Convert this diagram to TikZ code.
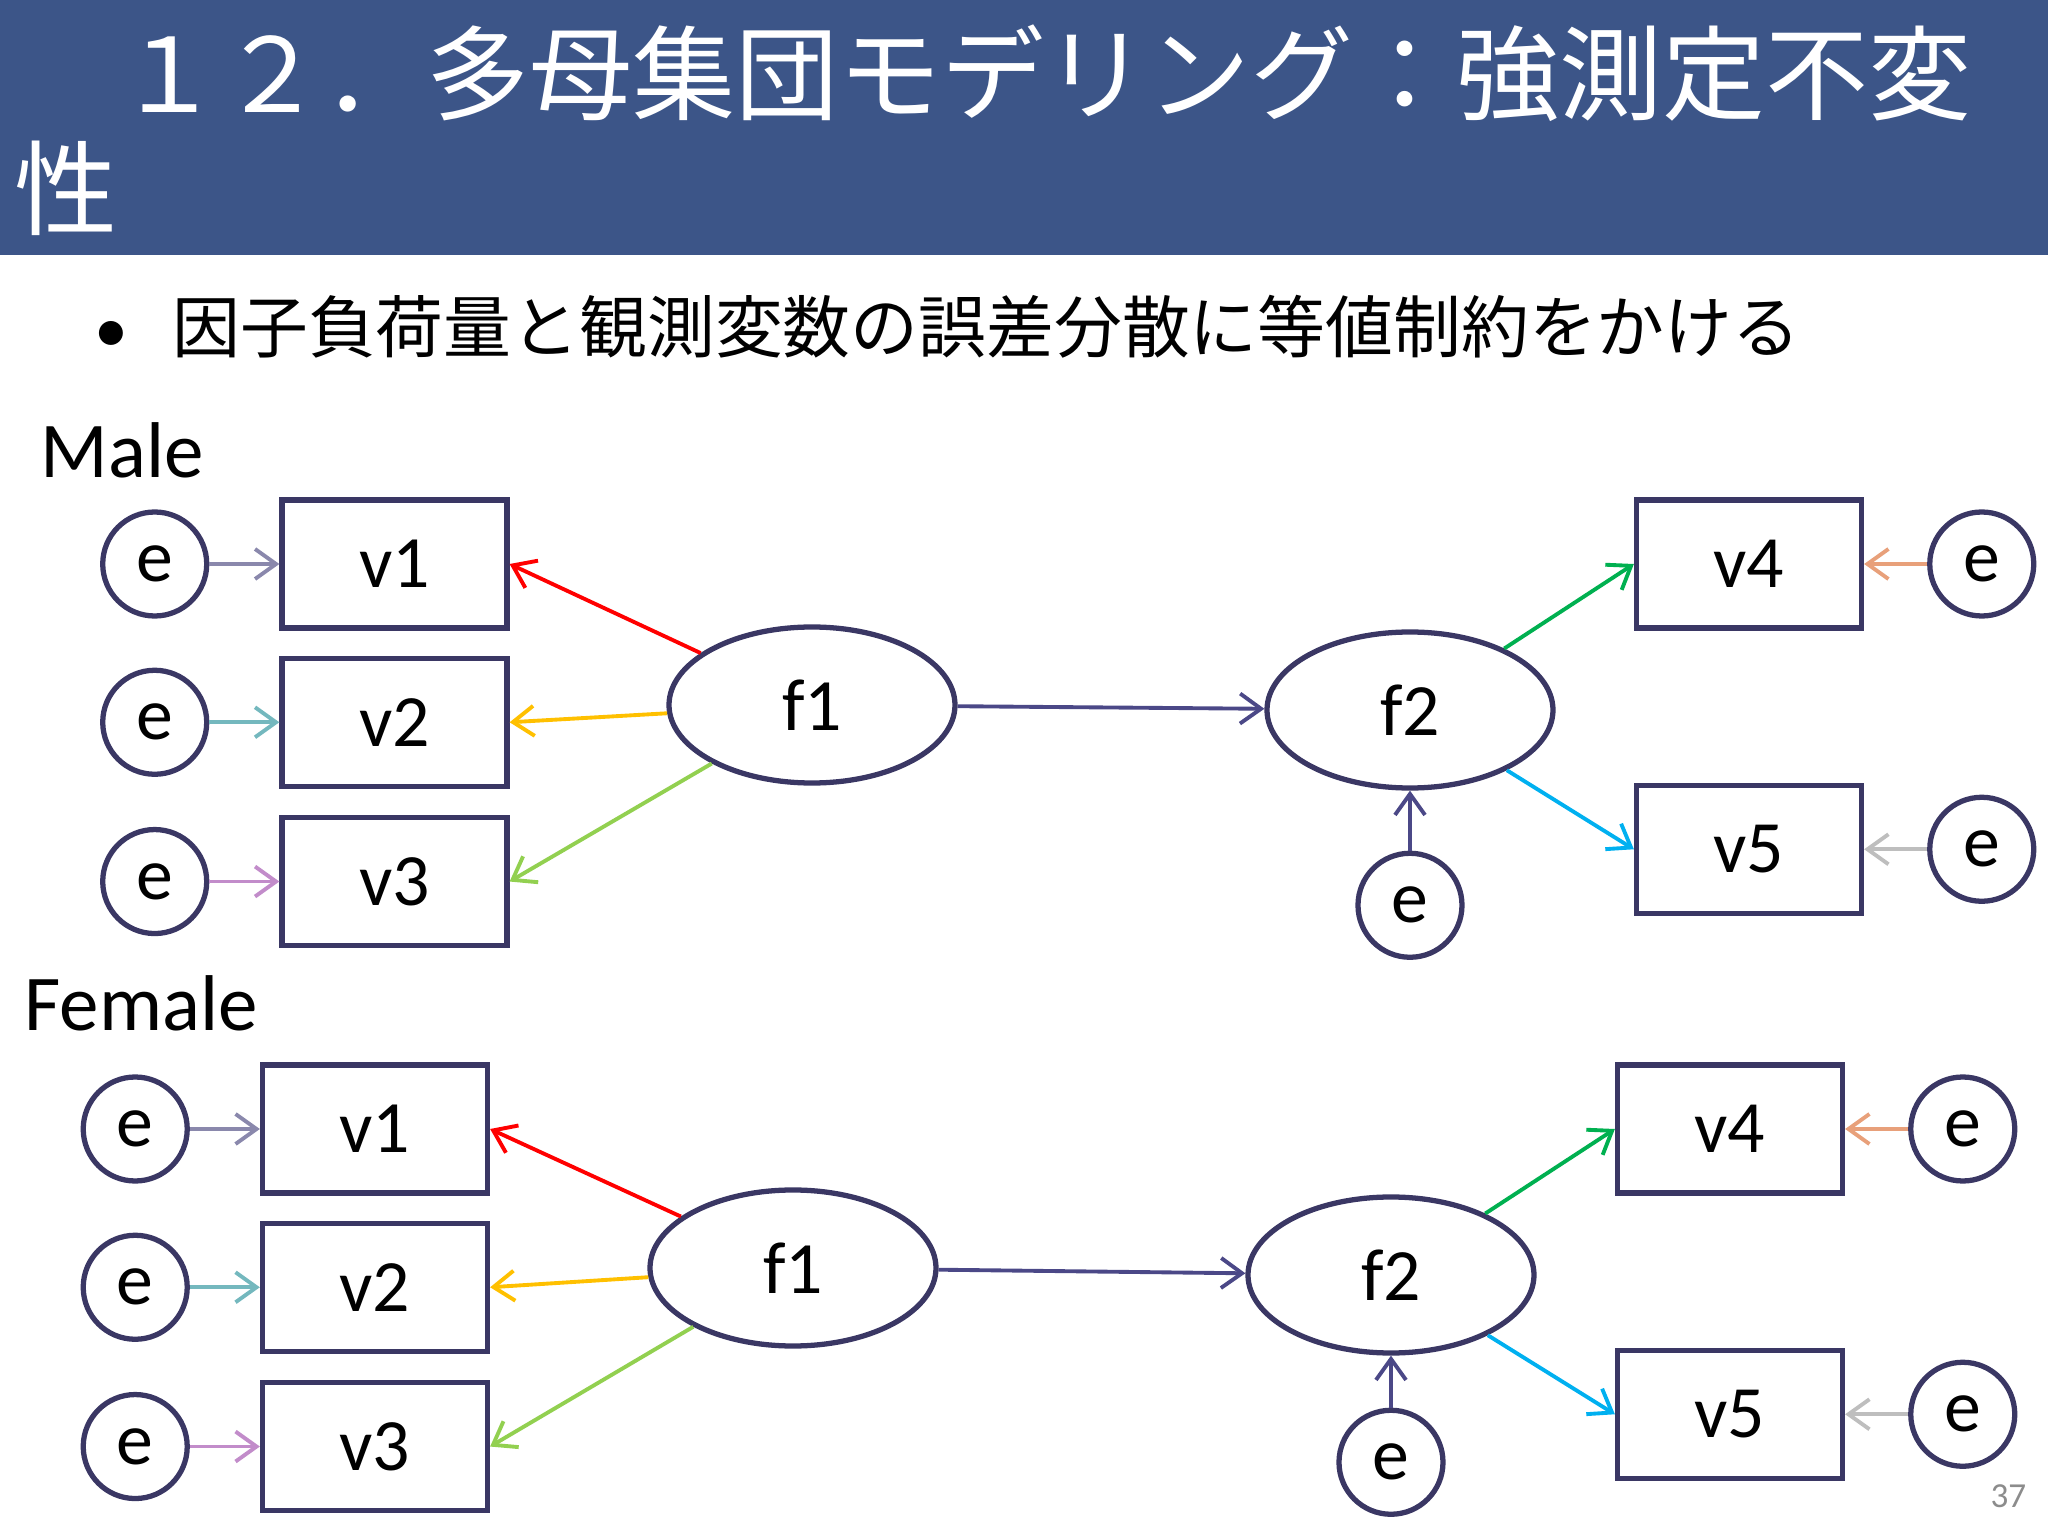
\documentclass[tikz,border=0pt]{standalone}
\usepackage{fontspec}
\setmainfont{Carlito}
\newfontfamily\jpfont{Noto Sans CJK JP}
\usetikzlibrary{positioning,arrows.meta,shapes.geometric}

\definecolor{hdrblue}{RGB}{60,85,136}
\definecolor{navy}{RGB}{58,55,100}
\definecolor{pathnavy}{RGB}{75,72,135}
\definecolor{errgray}{RGB}{138,136,172}
\definecolor{errteal}{RGB}{116,184,190}
\definecolor{errpink}{RGB}{194,140,202}
\definecolor{errpeach}{RGB}{232,160,122}
\definecolor{errlight}{RGB}{190,190,190}
\definecolor{ldred}{RGB}{255,0,0}
\definecolor{ldgold}{RGB}{255,192,0}
\definecolor{ldlime}{RGB}{146,208,80}
\definecolor{ldgreen}{RGB}{0,176,80}
\definecolor{ldblue}{RGB}{0,176,240}
\definecolor{pagegray}{RGB}{140,140,140}

\begin{document}
\begin{tikzpicture}[
    font=\fontsize{21}{25}\selectfont,
    obs/.style={draw=navy, line width=1.5pt, minimum width=22.5mm,
        minimum height=12.8mm, inner sep=0pt},
    lat/.style={ellipse, draw=navy, line width=1.5pt, minimum width=28.6mm,
        minimum height=15.6mm, inner sep=0pt},
    err/.style={circle, draw=navy, line width=1.5pt, minimum size=10.4mm, inner sep=0pt},
    link/.style={-{Straight Barb[length=2.1mm,width=3mm]}, line width=1.1pt, draw=#1},
    title/.style={anchor=base west, inner sep=0pt, text=white,
        font=\jpfont\fontsize{29.3}{32}\selectfont},
    grp/.style={anchor=base west, inner sep=0pt, font=\fontsize{#1}{#1}\selectfont},
]

% ---- page + header band ----
\useasboundingbox (0,0) rectangle (20.48,-15.36);
\fill[hdrblue] (0,0) rectangle (20.48,-2.55);

\node[title] (title1) at (0.14,-1.13) {　１２．多母集団モデリング：強測定不変};
\node[title] (title2) at (0.14,-2.28) {性};

\node[anchor=base west, inner sep=0pt, font=\fontsize{19.3}{22}\selectfont] (bullet)
    at (0.94,-3.53) {•\hspace{4.4mm}{\jpfont 因子負荷量と観測変数の誤差分散に等値制約をかける}};

\node[grp=22.5] (male)   at (0.40,-4.78)  {Male};
\node[grp=22.5] (female) at (0.24,-10.30) {Female};

% ---- male group ----
\node[obs] (mv1) at (3.945,-5.64) {v1};
\node[obs, below=2.5mm of mv1] (mv2) {v2};
\node[obs, below=2.6mm of mv2] (mv3) {v3};
\node[err, left=7mm of mv1] (mev1) {e};
\node[err, left=7mm of mv2] (mev2) {e};
\node[err, left=7mm of mv3] (mev3) {e};
\node[lat] (mf1) at (8.12,-7.05) {f1};
\node[lat] (mf2) at (14.10,-7.10) {f2};
\node[err, below=6mm of mf2] (mef2) {e};
\node[obs] (mv4) at (17.49,-5.64) {v4};
\node[obs, below=15.2mm of mv4] (mv5) {v5};
\node[err, right=6.3mm of mv4] (mev4) {e};
\node[err, right=6.3mm of mv5] (mev5) {e};

\draw[link=errgray]  (mev1) -- (mv1);
\draw[link=errteal]  (mev2) -- (mv2);
\draw[link=errpink]  (mev3) -- (mv3);
\draw[link=ldred]    (mf1) -- (mv1.east);
\draw[link=ldgold]   (mf1) -- (mv2.east);
\draw[link=ldlime]   (mf1) -- (mv3.east);
\draw[link=pathnavy] (mf1) -- (mf2);
\draw[link=pathnavy] (mef2) -- (mf2);
\draw[link=ldgreen]  (mf2) -- (mv4.west);
\draw[link=ldblue]   (mf2) -- (mv5.west);
\draw[link=errpeach] (mev4) -- (mv4);
\draw[link=errlight] (mev5) -- (mv5);

% ---- female group ----
\node[obs] (fv1) at (3.75,-11.29) {v1};
\node[obs, below=2.5mm of fv1] (fv2) {v2};
\node[obs, below=2.6mm of fv2] (fv3) {v3};
\node[err, left=7mm of fv1] (fev1) {e};
\node[err, left=7mm of fv2] (fev2) {e};
\node[err, left=7mm of fv3] (fev3) {e};
\node[lat] (ff1) at (7.93,-12.68) {f1};
\node[lat] (ff2) at (13.91,-12.75) {f2};
\node[err, below=5.2mm of ff2] (fef2) {e};
\node[obs] (fv4) at (17.30,-11.29) {v4};
\node[obs, below=15.2mm of fv4] (fv5) {v5};
\node[err, right=6.3mm of fv4] (fev4) {e};
\node[err, right=6.3mm of fv5] (fev5) {e};

\draw[link=errgray]  (fev1) -- (fv1);
\draw[link=errteal]  (fev2) -- (fv2);
\draw[link=errpink]  (fev3) -- (fv3);
\draw[link=ldred]    (ff1) -- (fv1.east);
\draw[link=ldgold]   (ff1) -- (fv2.east);
\draw[link=ldlime]   (ff1) -- (fv3.east);
\draw[link=pathnavy] (ff1) -- (ff2);
\draw[link=pathnavy] (fef2) -- (ff2);
\draw[link=ldgreen]  (ff2) -- (fv4.west);
\draw[link=ldblue]   (ff2) -- (fv5.west);
\draw[link=errpeach] (fev4) -- (fv4);
\draw[link=errlight] (fev5) -- (fv5);

% ---- page number ----
\node[anchor=base east, inner sep=0pt, text=pagegray, font=\fontsize{10}{12}\selectfont]
    (pgno) at (20.27,-15.07) {37};

\end{tikzpicture}
\end{document}
